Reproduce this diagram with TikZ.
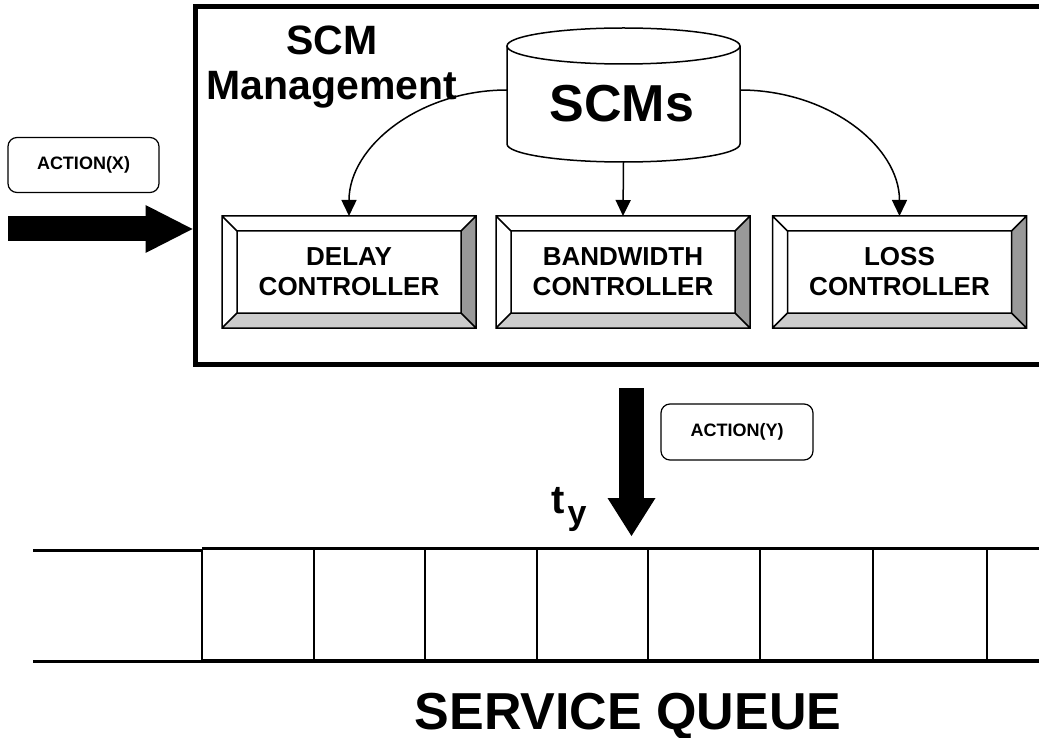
\documentclass[tikz,border=0pt]{standalone}
\usepackage{fontspec}
\setmainfont{Liberation Sans}
\usetikzlibrary{arrows.meta,calc}

\definecolor{bevdark}{gray}{0.6}
\definecolor{bevlight}{gray}{0.8}

\begin{document}
\begin{tikzpicture}[x=1pt,y=-1pt,
  ctrl/.style={minimum width=254pt,minimum height=112pt,inner sep=0pt,outer sep=0pt,
    align=center,font=\bfseries\fontsize{26}{30}\selectfont},
  actionbox/.style={draw,line width=1.2pt,rounded corners=9pt,minimum width=151pt,
    minimum height=55pt,inner sep=0pt,font=\bfseries\fontsize{18}{18}\selectfont},
  conn/.style={line width=1.5pt,-{Triangle[width=15pt,length=16pt]}},
  fatright/.style={line width=25pt,-{Triangle[width=48pt,length=47pt,line width=0pt]}},
  fatdown/.style={line width=25pt,-{Triangle[width=48pt,length=38pt,line width=0pt]}},
  outline/.style={line width=1.5pt},
  queueline/.style={line width=3pt},
  cellline/.style={line width=2pt}]

\clip (0,0) rectangle (1039,738);

% management frame, open on the right
\node[minimum width=850pt,minimum height=357pt,inner sep=0pt,outer sep=0pt] (mainbox) at (620,185.5) {};
\draw[line width=5pt] (mainbox.north east) -- (mainbox.north west) -- (mainbox.south west) -- (mainbox.south east);

\node[anchor=north,align=center,inner sep=0pt,font=\bfseries\fontsize{41}{45}\selectfont] (mgmt) at (332,25.5) {SCM\\Management};

% SCM store (cylinder)
\node[minimum width=233pt,minimum height=134pt,inner sep=0pt,outer sep=0pt] (db) at (623.5,95) {};
\draw[outline,fill=white] ([yshift=-18pt]db.north west) -- ([yshift=18pt]db.south west)
  arc[start angle=180,end angle=0,x radius=116.5,y radius=18] -- ([yshift=-18pt]db.north east);
\draw[outline] ([yshift=-18pt]db.north) ellipse [x radius=116.5,y radius=18];
\node[anchor=base,inner sep=0pt,font=\bfseries\fontsize{52}{52}\selectfont] (scmtxt) at (622,122) {SCMs};

% controllers
\node[ctrl] (delay) at (349,272) {DELAY\\CONTROLLER};
\node[ctrl] (bw) at (623,272) {BANDWIDTH\\CONTROLLER};
\node[ctrl] (loss) at (899.5,272) {LOSS\\CONTROLLER};

\foreach \n in {delay,bw,loss}{
  \coordinate (o1) at (\n.north west);
  \coordinate (o2) at (\n.north east);
  \coordinate (o3) at (\n.south east);
  \coordinate (o4) at (\n.south west);
  \coordinate (i1) at ([shift={(15pt,-15pt)}]\n.north west);
  \coordinate (i2) at ([shift={(-15pt,-15pt)}]\n.north east);
  \coordinate (i3) at ([shift={(-15pt,15pt)}]\n.south east);
  \coordinate (i4) at ([shift={(15pt,15pt)}]\n.south west);
  \fill[bevdark] (o2) -- (o3) -- (i3) -- (i2) -- cycle;
  \fill[bevlight] (o3) -- (o4) -- (i4) -- (i3) -- cycle;
  \draw[outline] (o1) rectangle (o3) (i1) rectangle (i3)
    (o1) -- (i1) (o2) -- (i2) (o3) -- (i3) (o4) -- (i4);
}

% connectors from the store
\draw[conn] ([yshift=5pt]db.west) .. controls +(-87,0) and +(0,-70) .. (delay.north);
\draw[conn] (db.south) -- (bw.north);
\draw[conn] ([yshift=5pt]db.east) .. controls +(88,0) and +(0,-70) .. (loss.north);

% incoming action
\node[actionbox] (actx) at (83.5,165) {ACTION(X)};
\coordinate (xin) at (8,229);
\draw[fatright] (xin) -- ($(mainbox.west |- xin)+(-2.5,0)$);

% outgoing action
\node[actionbox,minimum width=152pt,minimum height=56pt] (acty) at (737,432) {ACTION(Y)};
\coordinate (yout) at (631.5,388);
\coordinate (ytip) at (631.5,536);
\draw[fatdown] (yout) -- (ytip);
\node[anchor=base west,inner sep=0pt,font=\bfseries\fontsize{40}{40}\selectfont] (ty) at (551,513)
  {t\kern3pt\raisebox{-11pt}{\fontsize{34}{34}\selectfont y}};

% service queue
\draw[queueline] (33,550) -- (202,550);
\draw[queueline] (33,661) -- (202,661);
\draw[line width=3.5pt] (202,548.5) -- (1039,548.5);
\draw[line width=3.5pt] (202,661) -- (1039,661);
\foreach \x in {202,314,425,537,648,760,873,987}
  \draw[cellline] (\x,548.5) -- (\x,661);

\node[anchor=base,inner sep=0pt,font=\bfseries\fontsize{52}{52}\selectfont] (sq) at (628,729) {SERVICE QUEUE};
\end{tikzpicture}
\end{document}
